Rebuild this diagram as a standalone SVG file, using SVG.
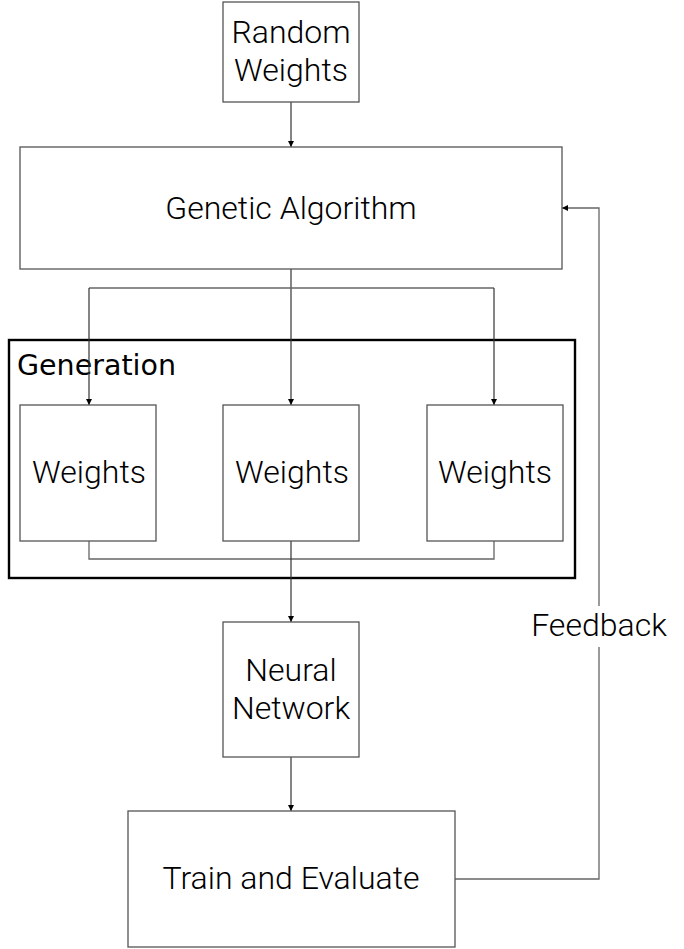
<svg xmlns="http://www.w3.org/2000/svg" width="684" height="949" viewBox="0 0 684 949">
<style>
.box{fill:#fff;stroke:#555;stroke-width:1.3}
.lbl{font-family:Roboto,"Liberation Sans",sans-serif;font-weight:300;font-size:32px;fill:#000;text-anchor:middle}
.gen{font-family:"DejaVu Sans",sans-serif;font-size:28.5px;fill:#000}
.con{fill:none;stroke:#333;stroke-width:1.2}
.con2{fill:none;stroke:#666;stroke-width:1.3}
</style>
<defs>
<marker id="ah" viewBox="0 0 10 10" refX="10" refY="5" markerWidth="6" markerHeight="6" markerUnits="userSpaceOnUse" orient="auto">
<path d="M0,0 L10,5 L0,10 z" fill="#000"/>
</marker>
</defs>
<rect x="0" y="0" width="684" height="949" fill="#fff"/>
<g id="generation">
<rect x="9" y="340" width="566" height="238" fill="#fff" stroke="#000" stroke-width="2.4"/>
<text class="gen" x="17" y="375">Generation</text>
</g>
<g id="connectors">
<path class="con" d="M291,102 V147" marker-end="url(#ah)"/>
<path class="con" d="M291,269 V405" marker-end="url(#ah)"/>
<path class="con2" d="M89,288 H494"/>
<path class="con" d="M89,288 V405" marker-end="url(#ah)"/>
<path class="con" d="M494,288 V405" marker-end="url(#ah)"/>
<path class="con2" d="M89,541 V559 H494 V541"/>
<path class="con" d="M291,541 V622" marker-end="url(#ah)"/>
<path class="con" d="M291,757 V811" marker-end="url(#ah)"/>
<path class="con2" d="M455,879 H599 V647"/>
<path class="con2" d="M599,606 V208 H562" marker-end="url(#ah)"/>
<text class="lbl" x="599" y="636">Feedback</text>
</g>
<g id="random-weights">
<rect class="box" x="223" y="2" width="136" height="100"/>
<text class="lbl" x="291" y="43">Random</text>
<text class="lbl" x="291" y="81">Weights</text>
</g>
<g id="genetic-algorithm">
<rect class="box" x="20" y="147" width="542" height="122"/>
<text class="lbl" x="291" y="219">Genetic Algorithm</text>
</g>
<g id="weights-1">
<rect class="box" x="20" y="405" width="136" height="136"/>
<text class="lbl" x="89" y="483">Weights</text>
</g>
<g id="weights-2">
<rect class="box" x="223" y="405" width="136" height="136"/>
<text class="lbl" x="292" y="483">Weights</text>
</g>
<g id="weights-3">
<rect class="box" x="427" y="405" width="136" height="136"/>
<text class="lbl" x="495" y="483">Weights</text>
</g>
<g id="neural-network">
<rect class="box" x="223" y="622" width="136" height="135"/>
<text class="lbl" x="291" y="681">Neural</text>
<text class="lbl" x="291" y="719">Network</text>
</g>
<g id="train-evaluate">
<rect class="box" x="128" y="811" width="327" height="136"/>
<text class="lbl" x="291" y="889">Train and Evaluate</text>
</g>
</svg>
